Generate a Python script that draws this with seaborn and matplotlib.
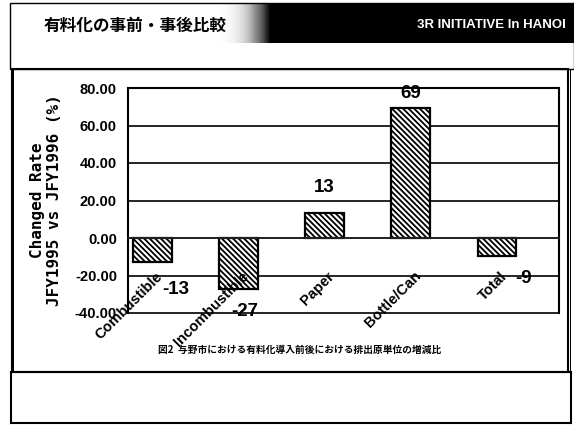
import numpy as np
import seaborn as sns
import matplotlib.pyplot as plt
from matplotlib.patches import Rectangle

# values
categories = ['Combustible', 'Incombustible', 'Paper', 'Bottle/Can', 'Total']
change_rate = [-12.8, -27.2, 13.6, 69.6, -9.4]
rate_labels = ['-13', '-27', '13', '69', '-9']
y_ticks = [-40, -20, 0, 20, 40, 60, 80]

title_jp = '有料化の事前・事後比較'
banner = '3R INITIATIVE In HANOI'
caption = '図2  与野市における有料化導入前後における排出原単位の増減比'

# label placement (pixels) copied from the old Excel layout
label_offsets = [(24, -28), (6, -22), (0, 25), (0, 14), (27, -23)]

sns.set_style('white')
plt.rcParams['font.family'] = ['Liberation Sans', 'Noto Sans CJK JP', 'DejaVu Sans']
plt.rcParams['hatch.linewidth'] = 1.3
for key in ['text.color', 'axes.labelcolor', 'xtick.color', 'ytick.color']:
    plt.rcParams[key] = 'black'

W, H = 574, 425
fig = plt.figure(figsize=(W / 100, H / 100), dpi=100)


def px_rect(x0, y0, x1, y1, **kw):
    """Rectangle given in pixel coords (origin top-left)."""
    r = Rectangle((x0 / W, 1 - y1 / H), (x1 - x0) / W, (y1 - y0) / H,
                  transform=fig.transFigure, **kw)
    fig.patches.append(r)


# header banner
px_rect(270, 3, 574, 43, facecolor='black', edgecolor='none')
grad = fig.add_axes([215 / W, 1 - 43 / H, 56 / W, 40 / H])
grad.imshow(np.linspace(0, 1, 50)[None, :] ** 2, cmap='Greys', aspect='auto', vmin=0, vmax=1)
grad.axis('off')
px_rect(10, 3, 574, 69, facecolor='none', edgecolor='black', linewidth=1)
fig.text(44 / W, 1 - 26 / H, title_jp, fontsize=12, fontweight='bold',
         family=['Noto Sans CJK JP', 'DejaVu Sans'], va='center', ha='left')
fig.text(566 / W, 1 - 25 / H, banner, fontsize=9.5, fontweight='bold',
         color='white', va='center', ha='right')

# frames
px_rect(12, 69, 568, 372, facecolor='none', edgecolor='black', linewidth=1.5)
px_rect(11, 69, 14, 372, facecolor='black', edgecolor='none')
px_rect(570, 69, 571, 423, facecolor='black', edgecolor='none')
px_rect(11, 372, 571, 423, facecolor='none', edgecolor='black', linewidth=1.5)

# chart
ax = fig.add_axes([128 / W, 1 - 313 / H, 431 / W, 225 / H])
sns.barplot(x=categories, y=change_rate, order=categories, color='white',
            edgecolor='black', linewidth=1.6, width=0.45, hatch='\\\\\\\\\\\\', ax=ax)

ax.set_ylim(-40, 80)
ax.set_xlim(-0.28, len(categories) - 0.28)
ax.set_yticks(y_ticks)
ax.set_yticklabels([f'{t:.2f}' for t in y_ticks], fontsize=10.5, fontweight='bold')
for t in y_ticks:
    ax.axhline(t, color='black', linewidth=1.2, zorder=0, clip_on=False)
ax.tick_params(axis='y', length=0, pad=8)

# category ticks on the zero line
ax.spines['bottom'].set_position(('data', 0))
ax.spines['bottom'].set_linewidth(1.2)
ax.set_xticks([i + 0.72 for i in range(len(categories) - 1)])
ax.set_xticklabels([])
ax.tick_params(axis='x', direction='in', length=4, width=1, color='black')
for s in ['left', 'right', 'top']:
    ax.spines[s].set_color('black')
    ax.spines[s].set_linewidth(1.5)

for i, name in enumerate(categories):
    ax.text(i + 0.09, -19.2, name, rotation=45, rotation_mode='anchor',
            ha='right', va='center', fontsize=10.5, fontweight='bold', zorder=5)

for i, (v, lab) in enumerate(zip(change_rate, rate_labels)):
    dx, dy = label_offsets[i]
    ax.annotate(lab, xy=(i, v), xytext=(dx, dy), textcoords='offset pixels',
                ha='center', va='center', fontsize=13.5, fontweight='bold', zorder=5)

fig.text(46 / W, 1 - 200 / H, 'Changed Rate\nJFY1995 vs JFY1996 (%)',
         rotation=90, ha='center', va='center', multialignment='center',
         fontsize=11.5, fontweight='bold', family='DejaVu Sans Mono', linespacing=1.15)

fig.text(300 / W, 1 - 350 / H, caption, fontsize=7, fontweight='bold',
         family=['Noto Sans CJK JP', 'DejaVu Sans'], ha='center', va='center')

fig.savefig('out.png', dpi=100)
